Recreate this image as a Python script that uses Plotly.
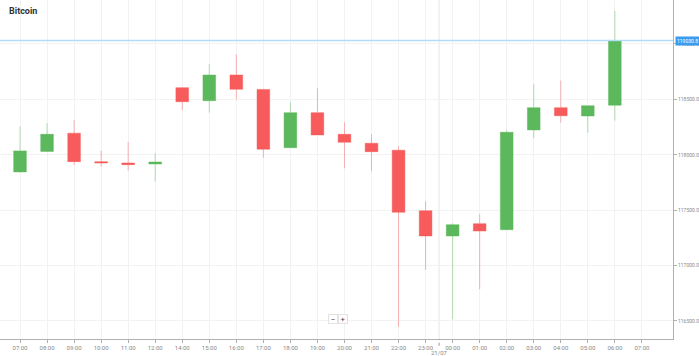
import plotly.graph_objects as go

# ---- data ----
tick_labels = ["07:00", "08:00", "09:00", "10:00", "11:00", "12:00", "14:00", "15:00",
               "16:00", "17:00", "18:00", "19:00", "20:00", "21:00", "22:00", "23:00",
               "00:00", "01:00", "02:00", "03:00", "04:00", "05:00", "06:00", "07:00"]
slots = list(range(-1, 23))  # candle slot index (-1 = 06:00 of previous day)
opens = [117870, 117845, 118030, 118195, 117938, 117926, 117917, 118606, 118488, 118720,
         118590, 118064, 118380, 118185, 118104, 118041, 117495, 117267, 117378, 117324,
         118224, 118425, 118350, 118447]
highs = [117895, 118255, 118285, 118315, 118037, 118115, 118013, 118606, 118817, 118907,
         118590, 118474, 118600, 118293, 118188, 118079, 117580, 117382, 117463, 118224,
         118636, 118669, 118445, 119298]
lows = [117840, 117840, 118028, 117908, 117893, 117856, 117757, 118404, 118380, 118501,
        117974, 118062, 118178, 117878, 117854, 116449, 116960, 116515, 116786, 117322,
        118149, 118290, 118199, 118308]
closes = [117850, 118035, 118185, 117938, 117926, 117911, 117935, 118479, 118720, 118591,
          118050, 118380, 118179, 118113, 118028, 117481, 117267, 117369, 117312, 118203,
          118425, 118353, 118443, 119030.8]
y_ticks = [116500, 117000, 117500, 118000, 118500, 119000]
day_label = "21/07"
day_boundary = 15.5
title = "Bitcoin"

last_price = closes[-1]

fig = go.Figure()
fig.add_trace(go.Candlestick(
    x=slots, open=opens, high=highs, low=lows, close=closes,
    increasing=dict(fillcolor="#5cb85c", line=dict(color="rgba(92,184,92,0.45)", width=1)),
    decreasing=dict(fillcolor="#f75b5b", line=dict(color="rgba(247,91,91,0.45)", width=1)),
    whiskerwidth=0, showlegend=False, hoverinfo="skip",
))

shapes = [
    dict(type="line", xref="x", yref="paper", x0=day_boundary, x1=day_boundary, y0=0, y1=1,
         line=dict(color="#e6e6e6", width=1), layer="below"),
    dict(type="line", xref="x", yref="paper", x0=day_boundary, x1=day_boundary, y0=-0.02, y1=0,
         line=dict(color="#999", width=1, dash="dot")),
    dict(type="line", xref="paper", yref="y", x0=0, x1=1, y0=last_price, y1=last_price,
         line=dict(color="#b5dcf6", width=1.5)),
]

annotations = [
    dict(text="<b>" + title + "</b>", xref="paper", yref="paper", x=0, y=1,
         xanchor="left", yanchor="top", xshift=7, yshift=-4, showarrow=False,
         font=dict(family="Roboto", size=9, color="#333")),
    dict(text=day_label, xref="x", yref="paper", x=day_boundary, y=0, yshift=-13,
         xanchor="center", yanchor="middle", showarrow=False,
         font=dict(family="Roboto", size=6, color="#888")),
    dict(text=f"{last_price:.1f}", xref="paper", yref="y", x=1, y=last_price,
         xanchor="left", yanchor="middle", xshift=2, showarrow=False,
         bgcolor="#3a9cf0", borderpad=1,
         font=dict(family="Roboto", size=5, color="white")),
    dict(text="−", xref="paper", yref="paper", x=333 / 673, y=20 / 339,
         xanchor="center", yanchor="middle", showarrow=False,
         bgcolor="white", bordercolor="#e3e3e3", borderwidth=1, borderpad=0,
         width=8, height=8, font=dict(family="Roboto", size=8, color="#444")),
    dict(text="+", xref="paper", yref="paper", x=343 / 673, y=20 / 339,
         xanchor="center", yanchor="middle", showarrow=False,
         bgcolor="white", bordercolor="#e3e3e3", borderwidth=1, borderpad=0,
         width=8, height=8, font=dict(family="Roboto", size=8, color="#444")),
]

fig.update_layout(
    width=699, height=356,
    margin=dict(l=0, r=26, t=0, b=17, autoexpand=False),
    paper_bgcolor="white", plot_bgcolor="white",
    shapes=shapes, annotations=annotations,
    boxgap=0.33,
    xaxis=dict(
        range=[-0.74, 24.15], tickmode="array", tickvals=list(range(len(tick_labels))),
        ticktext=tick_labels, showgrid=True, gridcolor="#f2f2f2", gridwidth=1,
        zeroline=False, showline=True, linecolor="#b0b0b0", linewidth=1,
        ticks="outside", ticklen=3, tickcolor="#b0b0b0", automargin=False,
        tickfont=dict(family="Roboto", size=6, color="#888"),
        rangeslider=dict(visible=False), fixedrange=True,
    ),
    yaxis=dict(
        side="right", range=[116337, 119397], tickmode="array", tickvals=y_ticks,
        ticktext=[f"{v:.1f}" for v in y_ticks], showgrid=True, gridcolor="#f2f2f2",
        zeroline=False, showline=True, linecolor="#b0b0b0", linewidth=1,
        ticks="outside", ticklen=3, tickcolor="#b0b0b0", automargin=False,
        tickfont=dict(family="Roboto", size=5, color="#888"), fixedrange=True,
    ),
)

fig.write_html("out.html", config={"displayModeBar": False},
               post_script="document.body.style.margin='0';document.body.style.overflow='hidden';")
